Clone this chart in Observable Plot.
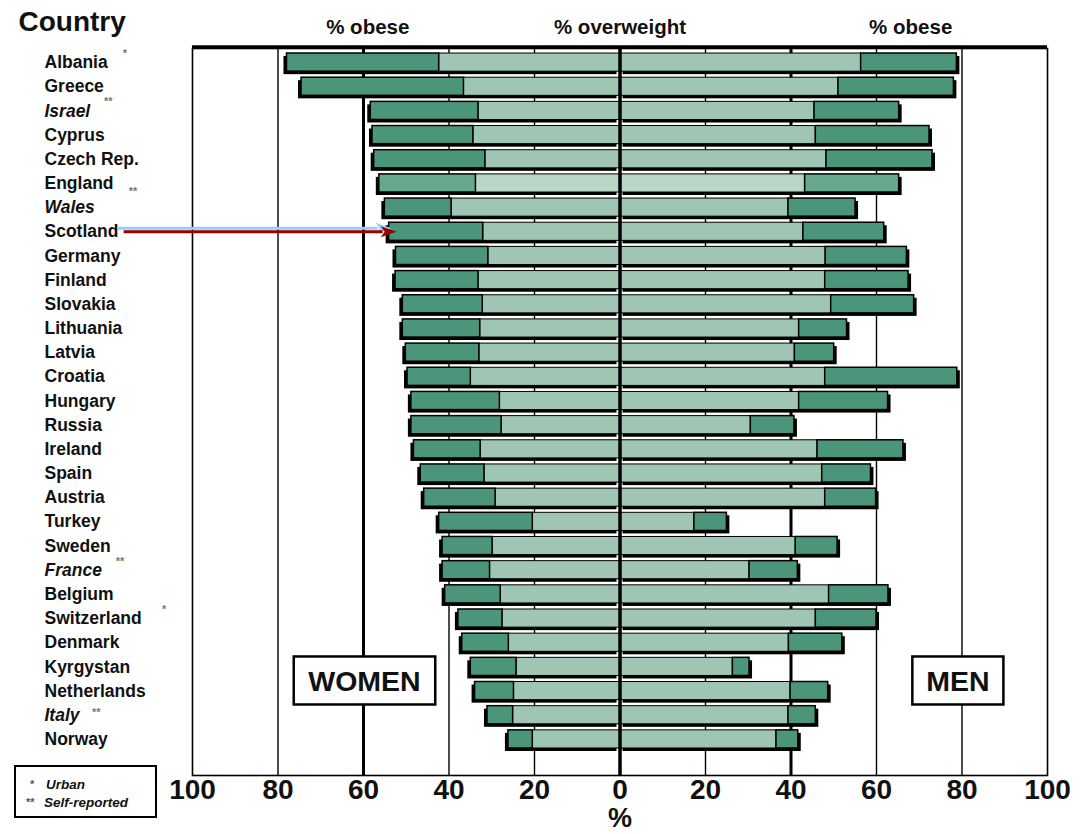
<!DOCTYPE html>
<html><head><meta charset="utf-8">
<script src="https://cdn.jsdelivr.net/npm/d3@7"></script>
<script src="https://cdn.jsdelivr.net/npm/@observablehq/plot@0.6"></script>
<style>
body{margin:0;background:#fff}
#chart svg{display:block}
g[aria-label="country-labels"] text, g[aria-label="country-labels-italic"] text{letter-spacing:1.3px}
g[aria-label="headers"] text{letter-spacing:2.2px}
</style>
</head><body><div id="chart"></div>
<script>
const countries = ["Albania","Greece","Israel","Cyprus","Czech Rep.","England","Wales","Scotland","Germany","Finland","Slovakia","Lithuania","Latvia","Croatia","Hungary","Russia","Ireland","Spain","Austria","Turkey","Sweden","France","Belgium","Switzerland","Denmark","Kyrgystan","Netherlands","Italy","Norway"];
const italicCountries = ["Israel","Wales","France","Italy"];
const notes = ["*","","**","","","**","","","","","","","","","","","","","","","","**","","*","","","","**",""];
// Women: % overweight (light) and % obese (dark)
const womenOverweight = [42.3,36.5,33.1,34.3,31.5,33.7,39.4,32.0,30.8,33.1,32.1,32.7,32.9,34.9,28.1,27.7,32.6,31.7,29.1,20.4,29.8,30.4,27.9,27.5,26.0,24.2,24.8,25.0,20.4];
const womenObese      = [35.6,38.0,25.2,23.6,26.0,22.6,15.6,22.0,21.6,19.4,18.7,18.1,17.2,14.8,20.7,21.1,15.6,14.9,16.7,21.9,11.7,11.1,13.0,10.3,10.9,10.7,9.1,6.0,5.7];
// Men
const menOverweight   = [56.4,51.1,45.5,45.8,48.3,43.3,39.4,42.9,48.1,48.0,49.4,41.9,40.9,48.0,41.9,30.6,46.2,47.3,48.0,17.4,41.1,30.3,48.9,45.8,39.5,26.4,39.9,39.4,36.6];
const menObese        = [22.4,27.0,19.8,26.6,24.8,22.0,15.7,18.9,19.0,19.5,19.4,11.2,9.2,30.9,20.8,10.2,20.1,11.4,11.9,7.6,9.8,11.3,13.9,14.2,12.5,3.9,8.8,6.4,5.1];
const tickValues = [-100,-80,-60,-40,-20,0,20,40,60,80,100];
const headers = [{label:"% obese", x:-59},{label:"% overweight", x:0},{label:"% obese", x:68}];
const legendItems = [{mark:"*", text:"Urban"},{mark:"**", text:"Self-reported"}];

const data = countries.map((c,i)=>({country:c, note:notes[i], italic:italicCountries.includes(c),
  wOw:womenOverweight[i], wOb:womenObese[i], mOw:menOverweight[i], mOb:menObese[i]}));

const DARK = "#4b967a", LIGHT = "#9fc6b3", DARK2 = "#67a78b", LIGHT2 = "#b9d6c7";
const isHi = d => d.country === "England";
const FONT = "'Liberation Sans', Arial, sans-serif";
const LABEL_SIZE = 17.5;

const ctx = document.createElement("canvas").getContext("2d");
function labelWidth(d){
  ctx.font = (d.italic ? "italic " : "") + "bold " + LABEL_SIZE + "px 'Liberation Sans', Arial";
  return ctx.measureText(d.country).width + d.country.length * 1.3;
}
const noteDy = {England: 8, Italy: -3};

const plot = Plot.plot({
  width:1084, height:834,
  marginLeft:192, marginRight:37, marginTop:48, marginBottom:59,
  style:{fontFamily:FONT, background:"white", color:"black"},
  x:{domain:[-100,100], axis:null},
  y:{domain:countries, range:[50,751], paddingInner:0.25, paddingOuter:0.125, round:false, axis:null},
  marks:[
    Plot.ruleX([-80,-40,-20,20,60,80], {stroke:"black", strokeWidth:1.4}),
    Plot.ruleX([-60,40], {stroke:"black", strokeWidth:3}),
    Plot.ruleX([0], {stroke:"black", strokeWidth:1.5}),
    Plot.frame({stroke:"black", strokeWidth:1.6}),
    // shadows
    Plot.barX(data, {y:"country", x1:0, x2:d=>-(d.wOw+d.wOb), fill:"black", dx:-3, dy:3}),
    Plot.barX(data, {y:"country", x1:0, x2:d=>d.mOw+d.mOb, fill:"black", dx:3, dy:3}),
    // women
    Plot.barX(data, {y:"country", x1:0, x2:d=>-d.wOw, fill:d=>isHi(d)?LIGHT2:LIGHT, stroke:"black", strokeWidth:1}),
    Plot.barX(data, {y:"country", x1:d=>-d.wOw, x2:d=>-(d.wOw+d.wOb), fill:d=>isHi(d)?DARK2:DARK, stroke:"black", strokeWidth:1.5}),
    // men
    Plot.barX(data, {y:"country", x1:0, x2:d=>d.mOw, fill:d=>isHi(d)?LIGHT2:LIGHT, stroke:"black", strokeWidth:1}),
    Plot.barX(data, {y:"country", x1:d=>d.mOw, x2:d=>d.mOw+d.mOb, fill:d=>isHi(d)?DARK2:DARK, stroke:"black", strokeWidth:1.5}),
    Plot.ruleX([0], {stroke:"black", strokeWidth:3.5}),
    // country labels
    Plot.text(data.filter(d=>!d.italic), {y:"country", text:"country", frameAnchor:"left", dx:-148, textAnchor:"start", lineAnchor:"middle", fontWeight:"bold", fontSize:LABEL_SIZE, fill:"#111", ariaLabel:"country-labels"}),
    Plot.text(data.filter(d=>d.italic), {y:"country", text:"country", frameAnchor:"left", dx:-148, textAnchor:"start", lineAnchor:"middle", fontWeight:"bold", fontStyle:"italic", fontSize:LABEL_SIZE, fill:"#111", ariaLabel:"country-labels-italic"}),
    // notes
    ...data.filter(d=>d.note).map(d => Plot.text([d], {y:"country", text:"note", frameAnchor:"left", dx:-148 + labelWidth(d) + 6, dy:(noteDy[d.country] ?? -9), textAnchor:"start", lineAnchor:"middle", fontSize:11, fontWeight:"bold", fill:"#777"})),
    // headers
    Plot.text(headers, {x:"x", text:"label", frameAnchor:"top", lineAnchor:"middle", dy:-21, fontWeight:"bold", fontSize:20.5, fill:"#111", ariaLabel:"headers"}),
    Plot.text(["Country"], {frameAnchor:"top-left", dx:-174, dy:-26, textAnchor:"start", lineAnchor:"middle", fontWeight:"bold", fontSize:28, fill:"#111"}),
    // tick labels
    Plot.text(tickValues, {x:d=>d, text:d=>String(Math.abs(d)), frameAnchor:"bottom", lineAnchor:"middle", dy:15, fontWeight:"bold", fontSize:28, fill:"#111"}),
    Plot.text(["%"], {x:0, frameAnchor:"bottom", lineAnchor:"middle", dy:43, fontWeight:"bold", fontSize:27, fill:"#111"})
  ]
});

const svg = d3.select(plot);
const xs = plot.scale("x"), ys = plot.scale("y");
const x = v => xs.apply(v);
const bw = ys.bandwidth ?? 0;
const yc = c => ys.apply(c) + bw/2;
// thick top border
svg.append("line").attr("x1", x(-100)).attr("x2", x(100)).attr("y1", 47).attr("y2", 47).attr("stroke","black").attr("stroke-width",3.5);
// arrows pointing at Scotland's women bar
const scot = data.find(d=>d.country==="Scotland");
const tipX = x(-(scot.wOw+scot.wOb));
const ys0 = yc("Scotland");
[{from:x(-117.5), tip:tipX+3, y:ys0-3, color:"#99ccff", hw:5.5},{from:x(-116), tip:tipX+8, y:ys0+0.5, color:"#990000", hw:5.5}].forEach(a=>{
  svg.append("line").attr("x1",a.from).attr("x2",a.tip-14).attr("y1",a.y).attr("y2",a.y).attr("stroke",a.color).attr("stroke-width",3);
  svg.append("path").attr("d",`M${a.tip},${a.y}L${a.tip-16},${a.y-a.hw}L${a.tip-12},${a.y}L${a.tip-16},${a.y+a.hw}Z`).attr("fill",a.color);
});
// WOMEN / MEN boxes
const boxMid = (yc("Kyrgystan") + yc("Netherlands"))/2 + 2;
[[-76.2,-43.1,"WOMEN"],[68.5,89.8,"MEN"]].forEach(([a,b,t])=>{
  svg.append("rect").attr("x", x(a)).attr("y", boxMid-24).attr("width", x(b)-x(a)).attr("height", 48)
    .attr("fill","white").attr("stroke","black").attr("stroke-width",2.5);
  svg.append("text").attr("x",(x(a)+x(b))/2).attr("y",boxMid).attr("dy","0.36em").attr("text-anchor","middle")
    .attr("font-family",FONT).attr("font-weight","bold").attr("font-size",28.5).attr("fill","#111").text(t);
});
// legend box
const lg = svg.append("g").attr("text-anchor","start");
lg.append("rect").attr("x",15).attr("y",766).attr("width",141).attr("height",51).attr("fill","white").attr("stroke","black").attr("stroke-width",2);
legendItems.forEach((it,i)=>{
  lg.append("text").attr("x", 30 - (it.mark.length-1)*4).attr("y", 788 + i*18).attr("font-family",FONT).attr("font-size",11).attr("font-weight","bold").attr("fill","#555").text(it.mark);
  lg.append("text").attr("x", i===0?46:44).attr("y", 789 + i*18).attr("font-family",FONT).attr("font-size",13.5).attr("font-weight","bold").attr("font-style","italic").attr("fill","#111").text(it.text);
});
document.getElementById("chart").append(plot);
</script></body></html>
